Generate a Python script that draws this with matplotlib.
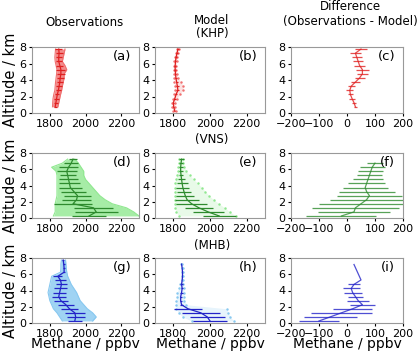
import matplotlib
matplotlib.use("Agg")
import matplotlib.pyplot as plt

# altitude bins (km)
z16 = [0.25, 0.75, 1.25, 1.75, 2.25, 2.75, 3.25, 3.75, 4.25, 4.75, 5.25, 5.75, 6.25, 6.75, 7.25, 7.75]

# ---- KHP ----
khp_obs_z = [0.75, 1.25, 1.75, 2.25, 2.75, 3.25, 3.75, 4.25, 4.75, 5.25, 5.75, 6.25, 6.75, 7.25, 7.75]
khp_obs_mean = [1830, 1834, 1838, 1842, 1848, 1852, 1856, 1858, 1862, 1862, 1856, 1850, 1850, 1852, 1850]
khp_obs_err = [8, 10, 12, 12, 14, 15, 18, 20, 22, 25, 20, 18, 18, 20, 20]
khp_obs_lo = [1815, 1816, 1818, 1822, 1828, 1830, 1832, 1835, 1838, 1840, 1835, 1830, 1828, 1830, 1832]
khp_obs_hi = [1845, 1850, 1855, 1860, 1866, 1870, 1875, 1880, 1880, 1895, 1885, 1870, 1875, 1880, 1885]

khp_mod_z = z16
khp_mod_mean = [1808, 1802, 1800, 1808, 1815, 1825, 1822, 1818, 1814, 1812, 1810, 1810, 1812, 1815, 1820, 1825]
khp_mod_err = [3, 3, 4, 5, 6, 8, 8, 6, 4, 4, 4, 4, 4, 4, 4, 4]
khp_mod_lo = [1800, 1795, 1795, 1800, 1805, 1810, 1808, 1805, 1805, 1805, 1805, 1805, 1806, 1808, 1812, 1818]
khp_mod_hi = [1815, 1810, 1808, 1818, 1835, 1850, 1855, 1840, 1825, 1820, 1816, 1815, 1818, 1822, 1826, 1830]

khp_dif_z = khp_obs_z
khp_dif_mean = [30, 25, 18, 12, 10, 15, 30, 45, 55, 55, 45, 40, 35, 30, 50]
khp_dif_err = [6, 8, 10, 10, 12, 12, 15, 18, 20, 22, 20, 18, 18, 20, 20]

# ---- VNS ----
vns_obs_z = z16[:15]
vns_obs_mean = [2020, 2060, 2045, 1930, 1950, 1955, 1935, 1915, 1910, 1905, 1900, 1895, 1905, 1920, 1930]
vns_obs_err = [95, 120, 110, 105, 80, 75, 70, 65, 60, 55, 45, 55, 55, 40, 20]
vns_obs_lo = [1820, 1830, 1830, 1830, 1835, 1840, 1840, 1840, 1840, 1840, 1840, 1835, 1810, 1870, 1900]
vns_obs_hi = [2300, 2270, 2230, 2150, 2110, 2080, 2060, 2040, 2020, 2000, 1990, 1990, 1975, 1960, 1940]

vns_mod_z = z16[:15]
vns_mod_mean = [2050, 1990, 1940, 1900, 1875, 1865, 1858, 1852, 1848, 1845, 1842, 1840, 1840, 1842, 1845]
vns_mod_err = [90, 85, 75, 85, 65, 50, 40, 35, 30, 20, 12, 10, 10, 10, 12]
vns_mod_lo = [1830, 1815, 1810, 1810, 1810, 1810, 1810, 1810, 1810, 1812, 1820, 1825, 1828, 1830, 1832]
vns_mod_hi = [2140, 2110, 2080, 2050, 2020, 1995, 1975, 1955, 1935, 1910, 1890, 1870, 1860, 1855, 1855]

vns_dif_z = z16[:14]
vns_dif_mean = [-20, 25, 30, 50, 70, 80, 70, 65, 70, 75, 80, 85, 90, 100]
vns_dif_err = [125, 130, 155, 150, 130, 115, 100, 80, 65, 55, 45, 45, 45, 30]

# ---- MHB ----
mhb_obs_z = z16
mhb_obs_mean = [1940, 1945, 1940, 1910, 1890, 1862, 1850, 1855, 1860, 1865, 1860, 1845, 1880, 1880, 1878, 1875]
mhb_obs_err = [40, 50, 55, 50, 45, 40, 40, 35, 35, 30, 30, 25, 5, 5, 5, 5]
mhb_obs_lo = [1870, 1855, 1840, 1820, 1810, 1800, 1795, 1790, 1795, 1800, 1805, 1810, 1860, 1862, 1862, 1865]
mhb_obs_hi = [2040, 2060, 2040, 2010, 1990, 1970, 1960, 1950, 1935, 1920, 1910, 1900, 1895, 1892, 1890, 1888]

mhb_mod_z = z16[:15]
mhb_mod_mean = [2000, 1985, 1950, 1880, 1845, 1840, 1840, 1845, 1848, 1845, 1848, 1850, 1850, 1848, 1845]
mhb_mod_err = [95, 95, 105, 75, 8, 6, 6, 8, 6, 6, 0, 0, 0, 0, 0]
mhb_mod_lo = [1900, 1850, 1830, 1815, 1815, 1815, 1818, 1820, 1830, 1835, 1845, 1848, 1848, 1846, 1843]
mhb_mod_hi = [2130, 2110, 2100, 2090, 1870, 1860, 1858, 1858, 1858, 1855, 1852, 1852, 1852, 1850, 1848]

mhb_dif_z = [0.25, 0.75, 1.25, 1.75, 2.25, 2.75, 3.25, 3.75, 4.25, 4.75, 5.3, 7.2]
mhb_dif_mean = [-100, -60, -20, 20, 55, 40, 30, 20, 15, 25, 50, 25]
mhb_dif_err = [70, 95, 110, 70, 45, 40, 28, 32, 30, 22, 0, 0]

stations = ["KHP", "VNS", "MHB"]
letters = ["(a)", "(b)", "(c)", "(d)", "(e)", "(f)", "(g)", "(h)", "(i)"]
dark = ["#e02020", "#2e8b2e", "#2323c8"]
light = ["#f07070", "#90e890", "#87c8f0"]

obs = [(khp_obs_z, khp_obs_mean, khp_obs_err, khp_obs_lo, khp_obs_hi),
       (vns_obs_z, vns_obs_mean, vns_obs_err, vns_obs_lo, vns_obs_hi),
       (mhb_obs_z, mhb_obs_mean, mhb_obs_err, mhb_obs_lo, mhb_obs_hi)]
mod = [(khp_mod_z, khp_mod_mean, khp_mod_err, khp_mod_lo, khp_mod_hi),
       (vns_mod_z, vns_mod_mean, vns_mod_err, vns_mod_lo, vns_mod_hi),
       (mhb_mod_z, mhb_mod_mean, mhb_mod_err, mhb_mod_lo, mhb_mod_hi)]
dif = [(khp_dif_z, khp_dif_mean, khp_dif_err),
       (vns_dif_z, vns_dif_mean, vns_dif_err),
       (mhb_dif_z, mhb_dif_mean, mhb_dif_err)]

fig = plt.figure(figsize=(4.18, 3.53), dpi=100)
W, H = 418.0, 353.0
cols = [(32, 139), (155, 265), (291, 403)]
rows = [(47, 113), (153, 218), (258, 323)]

for r in range(3):
    for c in range(3):
        x0, x1 = cols[c]
        y0, y1 = rows[r]
        ax = fig.add_axes([x0 / W, 1 - y1 / H, (x1 - x0) / W, (y1 - y0) / H])
        if c == 0:
            z, m, e, lo, hi = obs[r]
            ax.fill_betweenx(z, lo, hi, color=light[r], alpha=0.8, lw=0)
            ax.plot(lo, z, color=light[r], lw=0.8)
            ax.plot(hi, z, color=light[r], lw=0.8)
            ax.errorbar(m, z, xerr=e, color=dark[r], lw=0.9, elinewidth=0.9)
        elif c == 1:
            z, m, e, lo, hi = mod[r]
            ax.fill_betweenx(z, lo, hi, color=light[r], alpha=0.2, lw=0)
            ax.plot(lo, z, ".", color=light[r], ms=1.5)
            ax.plot(hi, z, ".", color=light[r], ms=1.5)
            ax.errorbar(m, z, xerr=e, color=dark[r], lw=0.9, elinewidth=0.9)
        else:
            z, m, e = dif[r]
            ax.errorbar(m, z, xerr=e, color=dark[r], lw=0.9, elinewidth=0.9, alpha=0.8)
        if c < 2:
            ax.set_xlim(1700, 2300)
            ax.set_xticks([1800, 2000, 2200])
        else:
            ax.set_xlim(-200, 200)
            ax.set_xticks([-200, -100, 0, 100, 200])
        ax.set_ylim(0, 8)
        ax.set_yticks([0, 2, 4, 6, 8])
        ax.tick_params(labelsize=8, length=2.5, pad=1.5)
        for s in ax.spines.values():
            s.set_color("#999999")
        ax.text(0.93, 0.86, letters[r * 3 + c], transform=ax.transAxes,
                ha="right", va="center", fontsize=9.5)
        if c == 0:
            ax.set_ylabel("Altitude / km", fontsize=10.5, labelpad=1)
        if r == 2:
            ax.set_xlabel("Methane / ppbv", fontsize=10, labelpad=-1)

fig.text(85 / W, 1 - 22 / H, "Observations", ha="center", va="center", fontsize=8.5)
fig.text(212 / W, 1 - 20 / H, "Model", ha="center", va="center", fontsize=8.5)
fig.text(350 / W, 1 - 14 / H, "Difference\n(Observations - Model)", ha="center",
         va="center", fontsize=8.5, linespacing=1.1)
station_y = [33, 140, 245]
for r in range(3):
    fig.text(212 / W, 1 - station_y[r] / H, "(" + stations[r] + ")", ha="center",
             va="center", fontsize=8.5)

fig.savefig("out.png", dpi=100)
